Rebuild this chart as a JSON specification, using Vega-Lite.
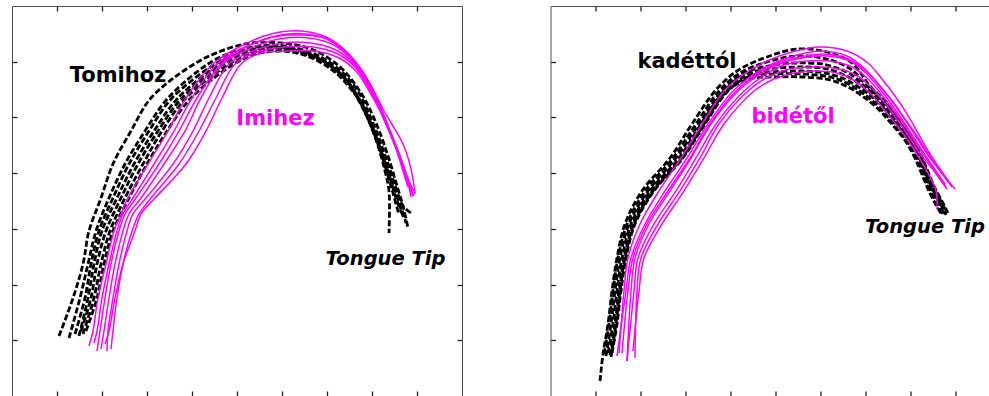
{
"$schema":"https://vega.github.io/schema/vega-lite/v6.json",
"background":"white",
"padding":{"left":11,"top":5,"right":0,"bottom":0},
"spacing":86.5,
"config":{"view":{"stroke":null},"axis":{"labels":false,"grid":false,"domainColor":"#4d4d4d","domainWidth":1,"tickColor":"#222222","tickSize":-5,"tickWidth":1.3}},
"datasets":{
"LK":[
{"c":1,"x":10.44,"y":10.77},{"c":1,"x":13.56,"y":17.59},{"c":1,"x":15.78,"y":23.69},{"c":1,"x":17.11,"y":29.62},{"c":1,"x":19.78,"y":35.54},{"c":1,"x":22.44,"y":41.64},{"c":1,"x":26.44,"y":47.56},{"c":1,"x":30.89,"y":53.49},{"c":1,"x":39.78,"y":59.23},{"c":1,"x":46.44,"y":61.92},{"c":1,"x":53.11,"y":63.36},{"c":1,"x":59.78,"y":63.36},{"c":1,"x":66.44,"y":62.28},{"c":1,"x":72.67,"y":59.23},{"c":1,"x":77.56,"y":54.38},{"c":1,"x":80.89,"y":49.0},{"c":1,"x":83.56,"y":43.08},{"c":1,"x":85.56,"y":37.69},{"c":1,"x":86.89,"y":34.1},{"c":1,"x":88.0,"y":30.15},
{"c":2,"x":12.67,"y":10.41},{"c":2,"x":15.11,"y":17.59},{"c":2,"x":16.89,"y":23.69},{"c":2,"x":18.67,"y":29.62},{"c":2,"x":21.56,"y":35.54},{"c":2,"x":25.11,"y":41.64},{"c":2,"x":29.56,"y":47.56},{"c":2,"x":34.67,"y":53.49},{"c":2,"x":43.56,"y":59.59},{"c":2,"x":49.11,"y":61.74},{"c":2,"x":55.33,"y":62.82},{"c":2,"x":62.0,"y":62.64},{"c":2,"x":68.22,"y":61.03},{"c":2,"x":73.56,"y":57.97},{"c":2,"x":77.11,"y":54.38},{"c":2,"x":79.56,"y":50.26},{"c":2,"x":81.78,"y":45.77},{"c":2,"x":83.78,"y":40.74},{"c":2,"x":85.33,"y":36.44},{"c":2,"x":87.11,"y":31.77},
{"c":3,"x":14.0,"y":11.13},{"c":3,"x":16.22,"y":17.59},{"c":3,"x":17.56,"y":23.69},{"c":3,"x":19.33,"y":29.62},{"c":3,"x":22.44,"y":35.54},{"c":3,"x":26.0,"y":41.64},{"c":3,"x":30.44,"y":47.56},{"c":3,"x":35.56,"y":53.49},{"c":3,"x":45.11,"y":59.59},{"c":3,"x":50.44,"y":61.74},{"c":3,"x":56.0,"y":62.82},{"c":3,"x":62.44,"y":62.28},{"c":3,"x":68.67,"y":60.49},{"c":3,"x":73.78,"y":57.26},{"c":3,"x":76.89,"y":53.49},{"c":3,"x":79.33,"y":49.36},{"c":3,"x":81.33,"y":45.23},{"c":3,"x":83.11,"y":40.74},{"c":3,"x":84.67,"y":36.44},{"c":3,"x":86.0,"y":32.49},
{"c":4,"x":14.89,"y":10.77},{"c":4,"x":16.89,"y":17.59},{"c":4,"x":18.22,"y":23.69},{"c":4,"x":20.0,"y":29.62},{"c":4,"x":23.33,"y":35.54},{"c":4,"x":27.11,"y":41.64},{"c":4,"x":31.56,"y":47.56},{"c":4,"x":36.89,"y":53.49},{"c":4,"x":46.44,"y":59.77},{"c":4,"x":51.56,"y":61.74},{"c":4,"x":57.11,"y":62.64},{"c":4,"x":63.11,"y":62.1},{"c":4,"x":69.11,"y":60.13},{"c":4,"x":74.0,"y":56.9},{"c":4,"x":77.11,"y":52.95},{"c":4,"x":79.56,"y":48.82},{"c":4,"x":81.56,"y":44.33},{"c":4,"x":82.89,"y":40.39},{"c":4,"x":83.78,"y":36.8},{"c":4,"x":83.78,"y":29.26},
{"c":5,"x":15.33,"y":11.67},{"c":5,"x":17.56,"y":17.59},{"c":5,"x":18.89,"y":23.69},{"c":5,"x":20.89,"y":29.62},{"c":5,"x":24.22,"y":35.54},{"c":5,"x":28.0,"y":41.64},{"c":5,"x":32.44,"y":47.56},{"c":5,"x":37.78,"y":53.49},{"c":5,"x":47.33,"y":59.77},{"c":5,"x":52.44,"y":61.74},{"c":5,"x":57.56,"y":62.46},{"c":5,"x":63.56,"y":61.92},{"c":5,"x":69.78,"y":59.77},{"c":5,"x":74.44,"y":56.54},{"c":5,"x":77.78,"y":52.41},{"c":5,"x":80.22,"y":48.1},{"c":5,"x":82.22,"y":43.62},{"c":5,"x":84.0,"y":39.13},{"c":5,"x":85.56,"y":35.0},{"c":5,"x":86.89,"y":32.31},
{"c":6,"x":15.78,"y":11.13},{"c":6,"x":18.22,"y":17.59},{"c":6,"x":19.78,"y":23.69},{"c":6,"x":21.78,"y":29.62},{"c":6,"x":25.11,"y":35.54},{"c":6,"x":29.11,"y":41.64},{"c":6,"x":33.33,"y":47.56},{"c":6,"x":38.67,"y":53.49},{"c":6,"x":48.22,"y":59.59},{"c":6,"x":53.11,"y":61.56},{"c":6,"x":58.22,"y":62.28},{"c":6,"x":64.22,"y":61.56},{"c":6,"x":70.44,"y":59.23},{"c":6,"x":74.89,"y":55.82},{"c":6,"x":78.22,"y":51.69},{"c":6,"x":80.67,"y":47.21},{"c":6,"x":82.89,"y":42.54},{"c":6,"x":84.67,"y":38.23},{"c":6,"x":86.44,"y":34.1},{"c":6,"x":87.56,"y":31.05},
{"c":7,"x":16.44,"y":11.67},{"c":7,"x":18.89,"y":17.59},{"c":7,"x":20.44,"y":23.69},{"c":7,"x":22.44,"y":29.62},{"c":7,"x":26.0,"y":35.54},{"c":7,"x":30.0,"y":41.64},{"c":7,"x":34.44,"y":47.56},{"c":7,"x":39.78,"y":53.49},{"c":7,"x":49.33,"y":59.59},{"c":7,"x":54.22,"y":61.38},{"c":7,"x":59.33,"y":61.92},{"c":7,"x":64.89,"y":61.21},{"c":7,"x":70.89,"y":58.69},{"c":7,"x":75.33,"y":55.1},{"c":7,"x":78.67,"y":51.15},{"c":7,"x":81.11,"y":46.67},{"c":7,"x":83.33,"y":42.18},{"c":7,"x":85.11,"y":37.87},{"c":7,"x":86.89,"y":34.1},{"c":7,"x":88.67,"y":32.85}
],
"LM":[
{"c":1,"x":17.11,"y":8.97},{"c":1,"x":18.0,"y":11.67},{"c":1,"x":19.11,"y":17.59},{"c":1,"x":20.89,"y":23.69},{"c":1,"x":22.67,"y":29.62},{"c":1,"x":24.22,"y":32.67},{"c":1,"x":25.78,"y":35.54},{"c":1,"x":30.22,"y":41.64},{"c":1,"x":34.67,"y":47.56},{"c":1,"x":38.67,"y":53.49},{"c":1,"x":44.67,"y":59.59},{"c":1,"x":50.89,"y":62.82},{"c":1,"x":57.56,"y":64.97},{"c":1,"x":64.22,"y":65.51},{"c":1,"x":69.78,"y":64.44},{"c":1,"x":74.22,"y":61.92},{"c":1,"x":77.56,"y":58.69},{"c":1,"x":80.22,"y":55.1},{"c":1,"x":82.44,"y":51.51},{"c":1,"x":84.67,"y":48.46},{"c":1,"x":86.89,"y":45.23},{"c":1,"x":88.22,"y":42.18},{"c":1,"x":89.11,"y":38.95},{"c":1,"x":89.56,"y":36.26},
{"c":2,"x":18.89,"y":8.08},{"c":2,"x":19.56,"y":11.67},{"c":2,"x":20.67,"y":17.59},{"c":2,"x":22.0,"y":23.69},{"c":2,"x":23.78,"y":29.62},{"c":2,"x":25.11,"y":32.67},{"c":2,"x":27.56,"y":35.54},{"c":2,"x":32.67,"y":41.64},{"c":2,"x":37.11,"y":47.56},{"c":2,"x":41.11,"y":53.49},{"c":2,"x":46.44,"y":59.59},{"c":2,"x":52.0,"y":62.64},{"c":2,"x":58.67,"y":64.62},{"c":2,"x":65.33,"y":64.97},{"c":2,"x":70.89,"y":63.72},{"c":2,"x":74.89,"y":61.03},{"c":2,"x":78.0,"y":57.97},{"c":2,"x":80.44,"y":54.38},{"c":2,"x":82.44,"y":50.8},{"c":2,"x":84.22,"y":47.21},{"c":2,"x":85.78,"y":43.62},{"c":2,"x":87.33,"y":40.03},{"c":2,"x":88.67,"y":36.8},
{"c":3,"x":19.78,"y":8.44},{"c":3,"x":20.44,"y":11.67},{"c":3,"x":21.56,"y":17.59},{"c":3,"x":22.89,"y":23.69},{"c":3,"x":24.67,"y":29.62},{"c":3,"x":26.0,"y":32.67},{"c":3,"x":28.67,"y":35.54},{"c":3,"x":33.78,"y":41.64},{"c":3,"x":38.44,"y":47.56},{"c":3,"x":42.0,"y":53.49},{"c":3,"x":46.89,"y":59.59},{"c":3,"x":52.67,"y":62.28},{"c":3,"x":59.33,"y":64.08},{"c":3,"x":66.0,"y":64.26},{"c":3,"x":71.56,"y":63.0},{"c":3,"x":75.33,"y":60.49},{"c":3,"x":78.22,"y":57.26},{"c":3,"x":80.67,"y":53.67},{"c":3,"x":82.67,"y":50.08},{"c":3,"x":84.44,"y":46.49},{"c":3,"x":86.0,"y":42.9},{"c":3,"x":87.56,"y":39.49},{"c":3,"x":89.11,"y":35.9},
{"c":4,"x":21.11,"y":8.08},{"c":4,"x":21.33,"y":11.67},{"c":4,"x":22.44,"y":17.59},{"c":4,"x":23.78,"y":23.69},{"c":4,"x":25.56,"y":29.62},{"c":4,"x":26.89,"y":32.67},{"c":4,"x":29.78,"y":35.54},{"c":4,"x":35.78,"y":41.64},{"c":4,"x":40.22,"y":47.56},{"c":4,"x":43.78,"y":53.49},{"c":4,"x":48.22,"y":59.59},{"c":4,"x":53.56,"y":61.92},{"c":4,"x":60.22,"y":63.36},{"c":4,"x":66.44,"y":63.36},{"c":4,"x":72.0,"y":62.1},{"c":4,"x":75.78,"y":59.77},{"c":4,"x":78.67,"y":56.54},{"c":4,"x":80.89,"y":52.95},{"c":4,"x":82.89,"y":49.36},{"c":4,"x":84.67,"y":45.77},{"c":4,"x":86.44,"y":42.18},{"c":4,"x":87.78,"y":38.95},{"c":4,"x":88.67,"y":35.72},
{"c":5,"x":22.0,"y":8.44},{"c":5,"x":22.44,"y":11.67},{"c":5,"x":23.33,"y":17.59},{"c":5,"x":24.67,"y":23.69},{"c":5,"x":26.67,"y":29.62},{"c":5,"x":28.22,"y":32.67},{"c":5,"x":30.89,"y":35.54},{"c":5,"x":37.11,"y":41.64},{"c":5,"x":41.56,"y":47.56},{"c":5,"x":45.33,"y":53.49},{"c":5,"x":49.56,"y":59.59},{"c":5,"x":54.44,"y":61.74},{"c":5,"x":60.67,"y":62.64},{"c":5,"x":66.89,"y":62.64},{"c":5,"x":72.44,"y":61.38},{"c":5,"x":76.22,"y":59.05},{"c":5,"x":78.89,"y":55.82},{"c":5,"x":81.33,"y":52.23},{"c":5,"x":83.33,"y":48.64},{"c":5,"x":85.33,"y":45.05},{"c":5,"x":86.89,"y":41.64},{"c":5,"x":88.22,"y":38.59},{"c":5,"x":89.56,"y":36.44},
{"c":6,"x":20.67,"y":9.33},{"c":6,"x":21.56,"y":11.67},{"c":6,"x":22.89,"y":17.59},{"c":6,"x":24.67,"y":23.69},{"c":6,"x":27.33,"y":29.62},{"c":6,"x":28.67,"y":32.67},{"c":6,"x":31.78,"y":35.54},{"c":6,"x":38.67,"y":41.64},{"c":6,"x":43.11,"y":47.56},{"c":6,"x":46.67,"y":53.49},{"c":6,"x":50.89,"y":59.59},{"c":6,"x":55.33,"y":61.56},{"c":6,"x":61.11,"y":61.92},{"c":6,"x":67.33,"y":61.92},{"c":6,"x":72.67,"y":60.67},{"c":6,"x":76.44,"y":58.33},{"c":6,"x":79.11,"y":55.1},{"c":6,"x":81.56,"y":51.51},{"c":6,"x":83.56,"y":47.92},{"c":6,"x":85.56,"y":44.33},{"c":6,"x":87.11,"y":40.92},{"c":6,"x":88.44,"y":37.69},{"c":6,"x":89.33,"y":35.9},
{"c":7,"x":18.22,"y":9.51},{"c":7,"x":18.89,"y":11.67},{"c":7,"x":20.0,"y":17.59},{"c":7,"x":21.56,"y":23.69},{"c":7,"x":23.33,"y":29.62},{"c":7,"x":24.67,"y":32.67},{"c":7,"x":26.89,"y":35.54},{"c":7,"x":31.56,"y":41.64},{"c":7,"x":36.0,"y":47.56},{"c":7,"x":40.0,"y":53.49},{"c":7,"x":45.56,"y":59.59},{"c":7,"x":51.33,"y":62.46},{"c":7,"x":58.0,"y":64.44},{"c":7,"x":64.67,"y":64.8},{"c":7,"x":70.44,"y":64.08},{"c":7,"x":74.44,"y":61.56},{"c":7,"x":77.78,"y":58.33},{"c":7,"x":80.22,"y":54.74},{"c":7,"x":82.22,"y":51.15},{"c":7,"x":84.0,"y":47.56},{"c":7,"x":85.56,"y":43.97},{"c":7,"x":86.89,"y":40.39},{"c":7,"x":88.0,"y":37.51}
],
"RK":[
{"c":1,"x":11.0,"y":2.69},{"c":1,"x":11.67,"y":7.54},{"c":1,"x":12.78,"y":12.92},{"c":1,"x":13.67,"y":18.85},{"c":1,"x":14.78,"y":24.77},{"c":1,"x":16.56,"y":30.87},{"c":1,"x":20.33,"y":36.8},{"c":1,"x":26.56,"y":42.72},{"c":1,"x":31.44,"y":48.82},{"c":1,"x":36.56,"y":54.74},{"c":1,"x":41.44,"y":58.33},{"c":1,"x":48.11,"y":60.85},{"c":1,"x":54.78,"y":62.28},{"c":1,"x":61.44,"y":61.74},{"c":1,"x":67.0,"y":59.77},{"c":1,"x":71.0,"y":55.64},{"c":1,"x":74.78,"y":52.59},{"c":1,"x":77.44,"y":49.72},{"c":1,"x":80.11,"y":46.67},{"c":1,"x":82.11,"y":43.62},{"c":1,"x":83.67,"y":40.74},{"c":1,"x":85.22,"y":37.69},{"c":1,"x":87.22,"y":34.64},{"c":1,"x":88.33,"y":32.85},
{"c":2,"x":11.89,"y":7.54},{"c":2,"x":13.0,"y":12.92},{"c":2,"x":13.89,"y":18.85},{"c":2,"x":15.0,"y":24.77},{"c":2,"x":17.0,"y":30.87},{"c":2,"x":21.0,"y":36.8},{"c":2,"x":27.22,"y":42.72},{"c":2,"x":32.33,"y":48.82},{"c":2,"x":37.44,"y":54.74},{"c":2,"x":42.11,"y":57.97},{"c":2,"x":48.11,"y":59.95},{"c":2,"x":54.78,"y":61.03},{"c":2,"x":61.44,"y":60.49},{"c":2,"x":67.0,"y":58.51},{"c":2,"x":70.33,"y":55.64},{"c":2,"x":74.33,"y":52.59},{"c":2,"x":77.0,"y":49.72},{"c":2,"x":79.89,"y":46.67},{"c":2,"x":81.89,"y":43.62},{"c":2,"x":83.44,"y":40.74},{"c":2,"x":85.0,"y":37.69},{"c":2,"x":87.0,"y":34.64},{"c":2,"x":88.11,"y":32.85},
{"c":3,"x":12.33,"y":7.18},{"c":3,"x":13.44,"y":12.92},{"c":3,"x":14.33,"y":18.85},{"c":3,"x":15.44,"y":24.77},{"c":3,"x":17.44,"y":30.87},{"c":3,"x":21.67,"y":36.8},{"c":3,"x":27.89,"y":42.72},{"c":3,"x":33.0,"y":48.82},{"c":3,"x":38.11,"y":54.74},{"c":3,"x":42.56,"y":57.79},{"c":3,"x":48.33,"y":59.23},{"c":3,"x":54.78,"y":59.77},{"c":3,"x":61.44,"y":59.41},{"c":3,"x":67.0,"y":57.62},{"c":3,"x":69.67,"y":55.64},{"c":3,"x":73.89,"y":52.59},{"c":3,"x":76.56,"y":49.72},{"c":3,"x":79.67,"y":46.67},{"c":3,"x":81.67,"y":43.62},{"c":3,"x":83.22,"y":40.74},{"c":3,"x":84.78,"y":37.69},{"c":3,"x":86.78,"y":34.64},{"c":3,"x":87.89,"y":32.49},
{"c":4,"x":12.78,"y":7.72},{"c":4,"x":13.89,"y":12.92},{"c":4,"x":14.78,"y":18.85},{"c":4,"x":15.89,"y":24.77},{"c":4,"x":17.89,"y":30.87},{"c":4,"x":22.11,"y":36.8},{"c":4,"x":28.56,"y":42.72},{"c":4,"x":33.44,"y":48.82},{"c":4,"x":38.56,"y":54.74},{"c":4,"x":43.0,"y":57.62},{"c":4,"x":48.78,"y":58.69},{"c":4,"x":55.22,"y":59.05},{"c":4,"x":61.67,"y":58.69},{"c":4,"x":67.0,"y":56.9},{"c":4,"x":69.22,"y":55.64},{"c":4,"x":73.44,"y":52.59},{"c":4,"x":76.33,"y":49.72},{"c":4,"x":79.22,"y":46.67},{"c":4,"x":81.44,"y":43.62},{"c":4,"x":83.0,"y":40.74},{"c":4,"x":84.56,"y":37.69},{"c":4,"x":86.56,"y":34.64},{"c":4,"x":87.67,"y":32.85},
{"c":5,"x":13.22,"y":7.36},{"c":5,"x":14.33,"y":12.92},{"c":5,"x":15.22,"y":18.85},{"c":5,"x":16.33,"y":24.77},{"c":5,"x":18.33,"y":30.87},{"c":5,"x":22.56,"y":36.8},{"c":5,"x":29.0,"y":42.72},{"c":5,"x":33.89,"y":48.82},{"c":5,"x":39.0,"y":54.74},{"c":5,"x":43.44,"y":57.44},{"c":5,"x":49.22,"y":58.15},{"c":5,"x":55.89,"y":58.33},{"c":5,"x":62.11,"y":57.79},{"c":5,"x":67.0,"y":56.18},{"c":5,"x":73.0,"y":52.59},{"c":5,"x":75.89,"y":49.72},{"c":5,"x":79.0,"y":46.67},{"c":5,"x":81.22,"y":43.62},{"c":5,"x":82.78,"y":40.74},{"c":5,"x":84.33,"y":37.69},{"c":5,"x":86.33,"y":34.64},{"c":5,"x":87.44,"y":32.67},
{"c":6,"x":13.67,"y":7.72},{"c":6,"x":14.78,"y":12.92},{"c":6,"x":15.67,"y":18.85},{"c":6,"x":16.78,"y":24.77},{"c":6,"x":18.78,"y":30.87},{"c":6,"x":23.0,"y":36.8},{"c":6,"x":29.44,"y":42.72},{"c":6,"x":34.33,"y":48.82},{"c":6,"x":39.44,"y":54.74},{"c":6,"x":43.89,"y":57.26},{"c":6,"x":49.67,"y":57.79},{"c":6,"x":55.89,"y":57.79},{"c":6,"x":62.11,"y":57.26},{"c":6,"x":67.0,"y":55.64},{"c":6,"x":72.56,"y":52.23},{"c":6,"x":75.67,"y":49.36},{"c":6,"x":78.78,"y":46.31},{"c":6,"x":81.0,"y":43.26},{"c":6,"x":82.56,"y":40.39},{"c":6,"x":84.11,"y":37.33},{"c":6,"x":85.89,"y":34.46},{"c":6,"x":87.22,"y":32.67},
{"c":7,"x":13.44,"y":7.0},{"c":7,"x":14.56,"y":12.92},{"c":7,"x":15.44,"y":18.85},{"c":7,"x":16.56,"y":24.77},{"c":7,"x":18.56,"y":30.87},{"c":7,"x":22.78,"y":36.8},{"c":7,"x":29.22,"y":42.72},{"c":7,"x":34.11,"y":48.82},{"c":7,"x":39.22,"y":54.74},{"c":7,"x":44.11,"y":56.9},{"c":7,"x":49.89,"y":57.26},{"c":7,"x":55.89,"y":57.26},{"c":7,"x":62.11,"y":56.72},{"c":7,"x":66.56,"y":55.28},{"c":7,"x":72.11,"y":52.05},{"c":7,"x":75.44,"y":49.18},{"c":7,"x":78.56,"y":46.13},{"c":7,"x":80.78,"y":43.08},{"c":7,"x":82.33,"y":40.21},{"c":7,"x":83.89,"y":37.15},{"c":7,"x":85.67,"y":34.28},{"c":7,"x":87.0,"y":32.49}
],
"RM":[
{"c":1,"x":15.22,"y":7.72},{"c":1,"x":16.33,"y":18.85},{"c":1,"x":17.22,"y":24.77},{"c":1,"x":19.89,"y":30.87},{"c":1,"x":24.11,"y":36.8},{"c":1,"x":29.0,"y":42.72},{"c":1,"x":33.67,"y":48.82},{"c":1,"x":38.56,"y":54.74},{"c":1,"x":43.0,"y":57.79},{"c":1,"x":48.11,"y":60.13},{"c":1,"x":53.67,"y":61.74},{"c":1,"x":59.89,"y":62.64},{"c":1,"x":65.89,"y":61.92},{"c":1,"x":70.56,"y":59.77},{"c":1,"x":73.67,"y":56.9},{"c":1,"x":76.56,"y":53.85},{"c":1,"x":79.22,"y":50.62},{"c":1,"x":81.44,"y":47.56},{"c":1,"x":83.67,"y":44.33},{"c":1,"x":86.11,"y":41.28},{"c":1,"x":88.78,"y":38.23},{"c":1,"x":89.89,"y":37.15},
{"c":2,"x":14.78,"y":7.18},{"c":2,"x":16.78,"y":18.85},{"c":2,"x":17.89,"y":24.77},{"c":2,"x":21.0,"y":30.87},{"c":2,"x":25.44,"y":36.8},{"c":2,"x":30.33,"y":42.72},{"c":2,"x":35.0,"y":48.82},{"c":2,"x":40.56,"y":54.74},{"c":2,"x":45.22,"y":57.79},{"c":2,"x":49.67,"y":59.77},{"c":2,"x":54.78,"y":61.21},{"c":2,"x":60.33,"y":61.92},{"c":2,"x":65.89,"y":61.03},{"c":2,"x":69.89,"y":58.69},{"c":2,"x":73.22,"y":55.64},{"c":2,"x":76.33,"y":52.59},{"c":2,"x":78.78,"y":49.72},{"c":2,"x":81.44,"y":46.67},{"c":2,"x":83.89,"y":43.62},{"c":2,"x":86.33,"y":40.74},{"c":2,"x":88.33,"y":38.59},
{"c":3,"x":17.0,"y":6.28},{"c":3,"x":17.89,"y":18.85},{"c":3,"x":18.78,"y":24.77},{"c":3,"x":21.89,"y":30.87},{"c":3,"x":26.56,"y":36.8},{"c":3,"x":31.22,"y":42.72},{"c":3,"x":35.67,"y":48.82},{"c":3,"x":41.67,"y":54.74},{"c":3,"x":46.56,"y":57.79},{"c":3,"x":50.78,"y":59.59},{"c":3,"x":55.89,"y":60.67},{"c":3,"x":61.44,"y":61.03},{"c":3,"x":66.56,"y":60.13},{"c":3,"x":70.11,"y":57.97},{"c":3,"x":73.22,"y":55.1},{"c":3,"x":75.89,"y":52.23},{"c":3,"x":78.33,"y":49.36},{"c":3,"x":80.78,"y":46.31},{"c":3,"x":83.22,"y":43.26},{"c":3,"x":85.67,"y":40.39},{"c":3,"x":87.67,"y":38.05},
{"c":4,"x":17.0,"y":6.28},{"c":4,"x":18.56,"y":18.85},{"c":4,"x":19.44,"y":24.77},{"c":4,"x":23.0,"y":30.87},{"c":4,"x":27.89,"y":36.8},{"c":4,"x":32.33,"y":42.72},{"c":4,"x":36.78,"y":48.82},{"c":4,"x":43.0,"y":54.74},{"c":4,"x":47.89,"y":57.79},{"c":4,"x":51.89,"y":59.41},{"c":4,"x":57.0,"y":60.13},{"c":4,"x":62.11,"y":60.13},{"c":4,"x":67.0,"y":59.05},{"c":4,"x":70.56,"y":56.9},{"c":4,"x":73.67,"y":54.03},{"c":4,"x":76.33,"y":51.15},{"c":4,"x":79.0,"y":48.1},{"c":4,"x":81.44,"y":45.05},{"c":4,"x":83.89,"y":42.18},{"c":4,"x":86.11,"y":39.49},{"c":4,"x":87.89,"y":37.51},
{"c":5,"x":18.78,"y":6.82},{"c":5,"x":19.22,"y":18.85},{"c":5,"x":20.11,"y":24.77},{"c":5,"x":23.89,"y":30.87},{"c":5,"x":28.78,"y":36.8},{"c":5,"x":33.22,"y":42.72},{"c":5,"x":37.44,"y":48.82},{"c":5,"x":43.89,"y":54.74},{"c":5,"x":48.33,"y":57.26},{"c":5,"x":53.0,"y":58.69},{"c":5,"x":58.11,"y":59.05},{"c":5,"x":63.0,"y":58.87},{"c":5,"x":67.44,"y":57.79},{"c":5,"x":71.0,"y":55.64},{"c":5,"x":74.11,"y":52.77},{"c":5,"x":76.78,"y":49.9},{"c":5,"x":79.44,"y":46.85},{"c":5,"x":81.67,"y":43.97},{"c":5,"x":84.33,"y":41.28},{"c":5,"x":86.56,"y":38.95},{"c":5,"x":88.11,"y":37.15},
{"c":6,"x":18.33,"y":8.08},{"c":6,"x":19.67,"y":18.85},{"c":6,"x":20.78,"y":24.77},{"c":6,"x":24.78,"y":30.87},{"c":6,"x":29.67,"y":36.8},{"c":6,"x":34.11,"y":42.72},{"c":6,"x":38.56,"y":48.82},{"c":6,"x":45.22,"y":54.74},{"c":6,"x":49.67,"y":56.9},{"c":6,"x":54.11,"y":57.97},{"c":6,"x":58.56,"y":58.33},{"c":6,"x":63.67,"y":57.97},{"c":6,"x":67.67,"y":56.54},{"c":6,"x":71.0,"y":54.38},{"c":6,"x":73.67,"y":51.87},{"c":6,"x":76.56,"y":49.0},{"c":6,"x":79.22,"y":46.13},{"c":6,"x":81.67,"y":43.08},{"c":6,"x":83.89,"y":40.03},{"c":6,"x":85.67,"y":36.8},{"c":6,"x":85.89,"y":33.56},
{"c":7,"x":15.89,"y":7.72},{"c":7,"x":17.22,"y":18.85},{"c":7,"x":18.33,"y":24.77},{"c":7,"x":21.44,"y":30.87},{"c":7,"x":26.11,"y":36.8},{"c":7,"x":31.0,"y":42.72},{"c":7,"x":35.44,"y":48.82},{"c":7,"x":41.22,"y":54.74},{"c":7,"x":45.89,"y":57.79},{"c":7,"x":50.33,"y":59.77},{"c":7,"x":55.44,"y":60.85},{"c":7,"x":60.78,"y":61.38},{"c":7,"x":66.11,"y":60.49},{"c":7,"x":70.11,"y":58.33},{"c":7,"x":73.44,"y":55.46},{"c":7,"x":76.33,"y":52.41},{"c":7,"x":79.0,"y":49.36},{"c":7,"x":81.44,"y":46.31},{"c":7,"x":83.89,"y":43.26},{"c":7,"x":86.56,"y":40.39},{"c":7,"x":89.22,"y":37.51}
],
"LW":[{"label":"Tomihoz","x":23.56,"y":56.36}],
"LP":[{"label":"Imihez","x":58.56,"y":48.64}],
"LT":[{"label":"Tongue Tip","x":83.0,"y":23.51}],
"RW":[{"label":"kadéttól","x":30.33,"y":58.87}],
"RP":[{"label":"bidétől","x":53.89,"y":49.06}],
"RT":[{"label":"Tongue Tip","x":83.22,"y":29.2}]
},
"hconcat":[
{
"width":450,"height":390,
"resolve":{"axis":{"x":"independent","y":"independent"}},
"layer":[
{"data":{"name":"LK"},"mark":{"type":"line","color":"#000000","strokeWidth":2.8,"strokeDash":[6,2.5],"interpolate":"catmull-rom"},
"encoding":{"x":{"field":"x","type":"quantitative","scale":{"domain":[0,100],"nice":false,"zero":false},"axis":{"orient":"bottom","values":[10,20,30,40,50,60,70,80,90],"title":null}},
"y":{"field":"y","type":"quantitative","scale":{"domain":[0,70],"nice":false,"zero":false},"axis":{"orient":"left","values":[10,20,30,40,50,60],"title":null}},
"detail":{"field":"c","type":"nominal"},"order":{"value":null}}},
{"data":{"name":"LM"},"mark":{"type":"line","color":"#FF00FF","strokeWidth":1.5,"interpolate":"catmull-rom"},
"encoding":{"x":{"field":"x","type":"quantitative","scale":{"domain":[0,100],"nice":false,"zero":false},"axis":{"orient":"top","values":[10,20,30,40,50,60,70,80,90],"title":null}},
"y":{"field":"y","type":"quantitative","scale":{"domain":[0,70],"nice":false,"zero":false},"axis":{"orient":"right","values":[10,20,30,40,50,60],"title":null}},
"detail":{"field":"c","type":"nominal"},"order":{"value":null}}},
{"data":{"name":"LW"},"mark":{"type":"text","font":"DejaVu Sans","fontWeight":"bold","fontSize":21,"align":"center","baseline":"alphabetic","color":"#000000"},
"encoding":{"x":{"field":"x","type":"quantitative","axis":null},"y":{"field":"y","type":"quantitative","axis":null},"text":{"field":"label"}}},
{"data":{"name":"LP"},"mark":{"type":"text","font":"DejaVu Sans","fontWeight":"bold","fontSize":21,"align":"center","baseline":"alphabetic","color":"#FF00FF"},
"encoding":{"x":{"field":"x","type":"quantitative","axis":null},"y":{"field":"y","type":"quantitative","axis":null},"text":{"field":"label"}}},
{"data":{"name":"LT"},"mark":{"type":"text","font":"DejaVu Sans","fontWeight":"bold","fontStyle":"italic","fontSize":19.5,"align":"center","baseline":"alphabetic","color":"#000000"},
"encoding":{"x":{"field":"x","type":"quantitative","axis":null},"y":{"field":"y","type":"quantitative","axis":null},"text":{"field":"label"}}}
]
},
{
"width":440,"height":390,
"resolve":{"axis":{"x":"independent","y":"independent"}},
"layer":[
{"data":{"name":"RK"},"mark":{"type":"line","color":"#000000","strokeWidth":2.8,"strokeDash":[6,2.5],"interpolate":"catmull-rom"},
"encoding":{"x":{"field":"x","type":"quantitative","scale":{"domain":[0,97.78],"nice":false,"zero":false},"axis":{"orient":"bottom","values":[10,20,30,40,50,60,70,80,90],"title":null}},
"y":{"field":"y","type":"quantitative","scale":{"domain":[0,70],"nice":false,"zero":false},"axis":{"orient":"left","values":[10,20,30,40,50,60],"title":null}},
"detail":{"field":"c","type":"nominal"},"order":{"value":null}}},
{"data":{"name":"RM"},"mark":{"type":"line","color":"#FF00FF","strokeWidth":1.5,"interpolate":"catmull-rom"},
"encoding":{"x":{"field":"x","type":"quantitative","scale":{"domain":[0,97.78],"nice":false,"zero":false},"axis":{"orient":"top","values":[10,20,30,40,50,60,70,80,90],"title":null}},
"y":{"field":"y","type":"quantitative","scale":{"domain":[0,70],"nice":false,"zero":false},"axis":null},
"detail":{"field":"c","type":"nominal"},"order":{"value":null}}},
{"data":{"name":"RW"},"mark":{"type":"text","font":"DejaVu Sans","fontWeight":"bold","fontSize":21,"align":"center","baseline":"alphabetic","color":"#000000"},
"encoding":{"x":{"field":"x","type":"quantitative","axis":null},"y":{"field":"y","type":"quantitative","axis":null},"text":{"field":"label"}}},
{"data":{"name":"RP"},"mark":{"type":"text","font":"DejaVu Sans","fontWeight":"bold","fontSize":21,"align":"center","baseline":"alphabetic","color":"#FF00FF"},
"encoding":{"x":{"field":"x","type":"quantitative","axis":null},"y":{"field":"y","type":"quantitative","axis":null},"text":{"field":"label"}}},
{"data":{"name":"RT"},"mark":{"type":"text","font":"DejaVu Sans","fontWeight":"bold","fontStyle":"italic","fontSize":19.5,"align":"center","baseline":"alphabetic","color":"#000000"},
"encoding":{"x":{"field":"x","type":"quantitative","axis":null},"y":{"field":"y","type":"quantitative","axis":null},"text":{"field":"label"}}}
]
}
]
}
